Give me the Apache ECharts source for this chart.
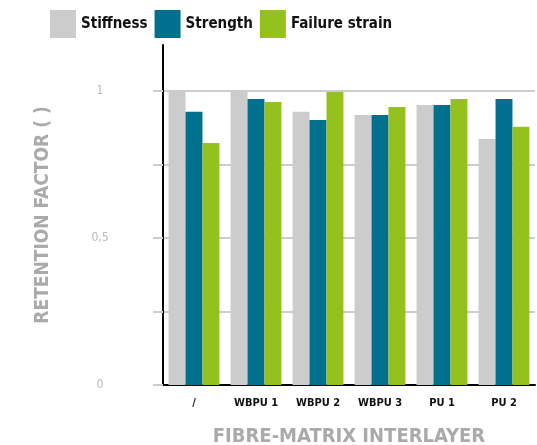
<!DOCTYPE html>
<html>
<head>
<meta charset="utf-8">
<script src="https://cdn.jsdelivr.net/npm/echarts@6/dist/echarts.min.js"></script>
<style>
  html, body { margin: 0; padding: 0; background: #fff; }
  #chart { width: 537px; height: 445px; }
</style>
</head>
<body>
<div id="chart"></div>
<script>
// data
var categories = ['/', 'WBPU 1', 'WBPU 2', 'WBPU 3', 'PU 1', 'PU 2'];
var stiffness = [1.0, 1.0, 0.929, 0.918, 0.952, 0.837];
var strength = [0.929, 0.973, 0.901, 0.918, 0.952, 0.973];
var failureStrain = [0.823, 0.963, 0.997, 0.946, 0.973, 0.878];
var yLabels = { 0: '0', 0.5: '0,5', 1: '1' };

var font = '"DejaVu Sans Condensed", "DejaVu Sans", sans-serif';

var chart = echarts.init(document.getElementById('chart'));

function barSeries(name, data, color) {
  return {
    name: name,
    type: 'bar',
    data: data,
    barGap: '0%',
    barCategoryGap: '18%',
    itemStyle: { color: color },
    xAxisIndex: 0,
    yAxisIndex: 0
  };
}

chart.setOption({
  animation: false,
  legend: {
    left: 50,
    top: 10,
    padding: 0,
    itemWidth: 26,
    itemHeight: 28,
    itemGap: 7,
    icon: 'rect',
    textStyle: { fontFamily: font, fontSize: 15, fontWeight: 'bold', color: '#111' },
    data: ['Stiffness', 'Strength', 'Failure strain']
  },
  grid: [
    { left: 163, right: 2, top: 91, bottom: 60, outerBoundsMode: 'none' },
    // taller grid only used for the vertical axis line and its title
    { left: 163, width: 10, top: 45, bottom: 60, outerBoundsMode: 'none' }
  ],
  xAxis: [
    {
      type: 'category',
      gridIndex: 0,
      data: categories,
      axisLine: { lineStyle: { color: '#000', width: 2 } },
      axisTick: { show: false },
      axisLabel: { interval: 0, fontFamily: font, fontSize: 11, fontWeight: 'bold', color: '#111', margin: 13 },
      name: 'FIBRE-MATRIX INTERLAYER',
      nameLocation: 'middle',
      nameGap: 42,
      nameTextStyle: { fontFamily: font, fontSize: 20, fontWeight: 'bold', color: '#aaa' }
    },
    { type: 'value', gridIndex: 1, show: false }
  ],
  yAxis: [
    {
      type: 'value',
      gridIndex: 0,
      min: 0,
      max: 1,
      interval: 0.25,
      axisLine: { show: false },
      axisTick: { show: true, length: 10, lineStyle: { color: '#ccc', width: 2 } },
      splitLine: { lineStyle: { color: '#ccc', width: 2 } },
      axisLabel: {
        fontFamily: font, fontSize: 12, color: '#bbb', align: 'center', margin: 63,
        formatter: function (v) { return yLabels[v] !== undefined ? yLabels[v] : ''; }
      }
    },
    {
      type: 'value',
      gridIndex: 1,
      min: 0,
      max: 1,
      axisLine: { show: true, lineStyle: { color: '#000', width: 2 } },
      axisTick: { show: false },
      axisLabel: { show: false },
      splitLine: { show: false },
      name: 'RETENTION FACTOR ( )',
      nameLocation: 'middle',
      nameGap: 110,
      nameTextStyle: { fontFamily: font, fontSize: 19, fontWeight: 'bold', color: '#aaa' }
    }
  ],
  series: [
    barSeries('Stiffness', stiffness, '#cccccc'),
    barSeries('Strength', strength, '#00708f'),
    barSeries('Failure strain', failureStrain, '#95c11f')
  ]
});
</script>
</body>
</html>
